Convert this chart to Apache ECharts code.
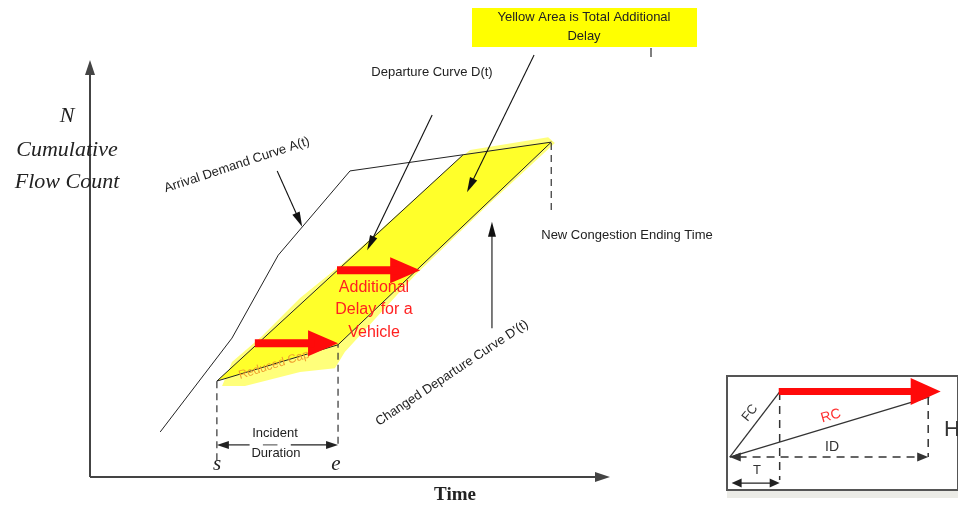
<!DOCTYPE html>
<html><head><meta charset="utf-8">
<script src="https://cdn.jsdelivr.net/npm/echarts@6/dist/echarts.min.js"></script>
<style>html,body{margin:0;padding:0;background:#fff}#c{width:958px;height:505px}</style>
</head><body><div id="c"></div>
<script>
// ---- Main diagram data (t = time units, n = cumulative count units) ----
const arrivalT   = [13.5, 27.3, 36.2, 50.0, 88.7];
const arrivalN   = [10.8, 33.3, 53.2, 73.4, 80.3];
const departureT = [24.4, 71.7];
const departureN = [23.0, 77.2];
const changedT   = [24.4, 47.7, 88.7];
const changedN   = [23.0, 31.7, 80.3];
const yellowT = [24.4, 71.7, 88.7, 47.7];
const yellowN = [23.0, 77.2, 80.3, 31.7];
const haloT = [25.4, 27.3, 33.1, 40.4, 49.0, 59.6, 70.2, 73.1, 88.1, 89.4, 76.5, 62.5, 49.0, 47.1, 40.4, 29.8];
const haloN = [21.8, 27.6, 33.8, 42.9, 51.6, 63.5, 75.5, 78.4, 81.5, 80.1, 65.2, 48.4, 30.0, 26.1, 25.2, 21.8];
const incidentStartT = 24.4, incidentStartN = 23.0;
const incidentEndT = 47.7, incidentEndN = 31.7;
const newEndT = 88.7, newEndN = 80.3;
const durationArrowN = 7.7;
// pointer arrows [fromT, fromN, toT, toN]
const pointerArrows = [
  [36.0, 73.4, 40.8, 60.0],   // Arrival Demand Curve
  [65.8, 86.8, 53.3, 54.4],   // Departure Curve
  [85.4, 101.2, 72.5, 68.3],  // Yellow area
  [77.3, 35.7, 77.3, 61.2]    // Changed departure curve
];
// red "additional delay" arrows
const delayArrows = [
  [31.7, 32.1, 47.7, 32.1],
  [47.5, 49.6, 63.5, 49.6]
];
// ---- Inset data (0..100 units in inset box) ----
const insetOrigin = [1.2, 28.9];
const insetFCEnd  = [22.8, 86.0];
const insetRCEnd  = [87.6, 81.6];
const insetRed    = [22.4, 86.5, 92.5, 86.5];
const insetDashV  = [[22.8, 86.0, 22.8, 8.8], [87.1, 81.6, 87.1, 28.9]];
const insetID     = [1.2, 28.9, 87.1, 28.9];
const insetT      = [2.0, 6.1, 22.8, 6.1];

const SANS = '"Liberation Sans", Arial, sans-serif';
const SERIF = '"Liberation Serif", "Times New Roman", serif';

function arrowSeries(data, o) {
  return {
    type: 'custom', coordinateSystem: 'cartesian2d',
    xAxisIndex: o.axis || 0, yAxisIndex: o.axis || 0,
    clip: false, silent: true, z: o.z || 5, data: data,
    renderItem: function (params, api) {
      const p1 = api.coord([api.value(0), api.value(1)]);
      const p2 = api.coord([api.value(2), api.value(3)]);
      const dx = p2[0] - p1[0], dy = p2[1] - p1[1];
      const L = Math.hypot(dx, dy) || 1;
      const ux = dx / L, uy = dy / L, px = -uy, py = ux;
      const hl = o.headLen || 0, hw = (o.headW || 0) / 2;
      const children = [];
      let a = p1.slice(), b = p2.slice();
      function head(tip, sx, sy) {
        return { type: 'polygon', shape: { points: [tip,
          [tip[0] - sx * hl + px * hw, tip[1] - sy * hl + py * hw],
          [tip[0] - sx * hl - px * hw, tip[1] - sy * hl - py * hw]] },
          style: { fill: o.color } };
      }
      if (o.heads === 'end' || o.heads === 'both') {
        children.push(head(p2, ux, uy));
        b = [p2[0] - ux * hl * 0.8, p2[1] - uy * hl * 0.8];
      }
      if (o.heads === 'both') {
        children.push(head(p1, -ux, -uy));
        a = [p1[0] + ux * hl * 0.8, p1[1] + uy * hl * 0.8];
      }
      children.push({ type: 'line', shape: { x1: a[0], y1: a[1], x2: b[0], y2: b[1] },
        style: { stroke: o.color, lineWidth: o.width, lineDash: o.dash || null, lineCap: 'butt' } });
      return { type: 'group', children: children };
    }
  };
}
function polygonSeries(ts, ns, fill, z) {
  return {
    type: 'custom', coordinateSystem: 'cartesian2d', silent: true, clip: false, z: z,
    data: [[0, 0]],
    renderItem: function (params, api) {
      const pts = ts.map(function (t, i) { return api.coord([t, ns[i]]); });
      return { type: 'polygon', shape: { points: pts }, style: { fill: fill } };
    }
  };
}
function curve(ts, ns, axis) {
  return {
    type: 'line', xAxisIndex: axis || 0, yAxisIndex: axis || 0, silent: true, z: 3,
    showSymbol: false, symbol: 'none', animation: false,
    data: ts.map(function (t, i) { return [t, ns[i]]; }),
    lineStyle: { color: '#222', width: 1 }
  };
}
function txt(text, x, y, size, opts) {
  opts = opts || {};
  return { type: 'text', x: x, y: y, rotation: opts.rot || 0, z: opts.z || 20, silent: true,
    style: { text: text, fill: opts.color || '#222',
      font: (opts.style || '') + ' ' + (opts.weight || '') + ' ' + size + 'px ' + (opts.family || SANS),
      textAlign: 'center', textVerticalAlign: 'middle', align: 'center', verticalAlign: 'middle' } };
}

const dur = incidentEndT - incidentStartT;
const series = [
  polygonSeries(haloT, haloN, 'rgba(255,255,90,0.8)', 1),
  polygonSeries(yellowT, yellowN, '#ffff2a', 2),
  curve(arrivalT, arrivalN),
  curve(departureT, departureN),
  curve(changedT, changedN),
  // axes
  arrowSeries([[0, 0, 0, 100], [0, 0, 100, 0]], { heads: 'end', color: '#444', width: 2, headLen: 15, headW: 10, z: 4 }),
  // dashed verticals
  arrowSeries([[incidentStartT, 4, incidentStartT, incidentStartN],
               [incidentEndT, 8, incidentEndT, incidentEndN],
               [newEndT, 64, newEndT, newEndN]],
              { heads: 'none', color: '#333', width: 1.2, dash: [7, 5], z: 4 }),
  // incident duration arrow (split around label)
  arrowSeries([[incidentStartT + dur * 0.27, durationArrowN, incidentStartT, durationArrowN],
               [incidentStartT + dur * 0.61, durationArrowN, incidentEndT, durationArrowN]],
              { heads: 'end', color: '#222', width: 1.2, headLen: 12, headW: 8, z: 4 }),
  arrowSeries([[incidentStartT + dur * 0.38, durationArrowN, incidentStartT + dur * 0.5, durationArrowN]],
              { heads: 'none', color: '#444', width: 1, z: 4 }),
  arrowSeries(pointerArrows, { heads: 'end', color: '#111', width: 1.1, headLen: 15, headW: 8, z: 6 }),
  arrowSeries(delayArrows, { heads: 'end', color: '#ff0a0a', width: 8, headLen: 30, headW: 26, z: 8 }),
  // inset
  arrowSeries([[insetOrigin[0], insetOrigin[1], insetFCEnd[0], insetFCEnd[1]],
               [insetOrigin[0], insetOrigin[1], insetRCEnd[0], insetRCEnd[1]]],
              { axis: 1, heads: 'none', color: '#333', width: 1.3, z: 5 }),
  arrowSeries(insetDashV, { axis: 1, heads: 'none', color: '#333', width: 1.5, dash: [8, 6], z: 5 }),
  arrowSeries([insetID], { axis: 1, heads: 'both', color: '#333', width: 1.5, dash: [8, 6], headLen: 11, headW: 9, z: 5 }),
  arrowSeries([insetT], { axis: 1, heads: 'both', color: '#222', width: 1.3, headLen: 10, headW: 9, z: 5 }),
  arrowSeries([insetRed], { axis: 1, heads: 'end', color: '#ff0a0a', width: 7, headLen: 30, headW: 27, z: 8 })
];

const chart = echarts.init(document.getElementById('c'), null, { renderer: 'canvas' });
chart.setOption({
  animation: false,
  backgroundColor: '#fff',
  grid: [
    { left: 90, right: 348, top: 60, bottom: 28, show: false },
    { left: 727, top: 376, width: 245, height: 114, show: true, borderColor: '#555', borderWidth: 2, backgroundColor: 'transparent' }
  ],
  xAxis: [
    { type: 'value', gridIndex: 0, min: 0, max: 100, show: false },
    { type: 'value', gridIndex: 1, min: 0, max: 100, show: false }
  ],
  yAxis: [
    { type: 'value', gridIndex: 0, min: 0, max: 100, show: false },
    { type: 'value', gridIndex: 1, min: 0, max: 100, show: false }
  ],
  series: series,
  graphic: [
    { type: 'rect', shape: { x: 472, y: 8, width: 225, height: 39 }, style: { fill: '#ffff00' }, z: 10, silent: true },
    { type: 'line', shape: { x1: 651, y1: 48, x2: 651, y2: 57 }, style: { stroke: '#555', lineWidth: 1.5 }, z: 10, silent: true },
    { type: 'rect', shape: { x: 727, y: 491, width: 231, height: 7 }, style: { fill: '#ebebe6' }, z: 1, silent: true },
    txt('Yellow Area is Total Additional', 584, 17, 13),
    txt('Delay', 584, 36, 13),
    txt('N', 67, 116, 22, { style: 'italic', family: SERIF }),
    txt('Cumulative', 67, 150, 22, { style: 'italic', family: SERIF }),
    txt('Flow Count', 67, 182, 22, { style: 'italic', family: SERIF }),
    txt('Time', 455, 495, 19, { weight: 'bold', family: SERIF }),
    txt('s', 217, 464, 21, { style: 'italic', family: SERIF }),
    txt('e', 336, 464, 21, { style: 'italic', family: SERIF }),
    txt('Incident', 275, 433, 13),
    txt('Duration', 276, 453, 13),
    txt('Arrival Demand Curve A(t)', 237, 165, 13, { rot: 0.32 }),
    txt('Departure Curve D(t)', 432, 72, 13),
    txt('New Congestion Ending Time', 627, 235, 13),
    txt("Changed Departure Curve D'(t)", 452, 373, 13, { rot: 0.587 }),
    txt('Reduced Cap', 274, 365, 12, { rot: 0.3, color: '#f0a030', z: 4 }),
    txt('Additional', 374, 288, 16, { color: '#ff2020' }),
    txt('Delay for a', 374, 310, 16, { color: '#ff2020' }),
    txt('Vehicle', 374, 333, 16, { color: '#ff2020' }),
    txt('FC', 750, 413, 13, { rot: 0.9, color: '#333' }),
    txt('RC', 831, 416, 14, { rot: 0.28, color: '#ff3030' }),
    txt('ID', 832, 447, 14, { color: '#333' }),
    txt('T', 757, 470, 13, { color: '#333' }),
    txt('H', 952, 430, 22, { color: '#333' })
  ]
});
</script>
</body></html>
